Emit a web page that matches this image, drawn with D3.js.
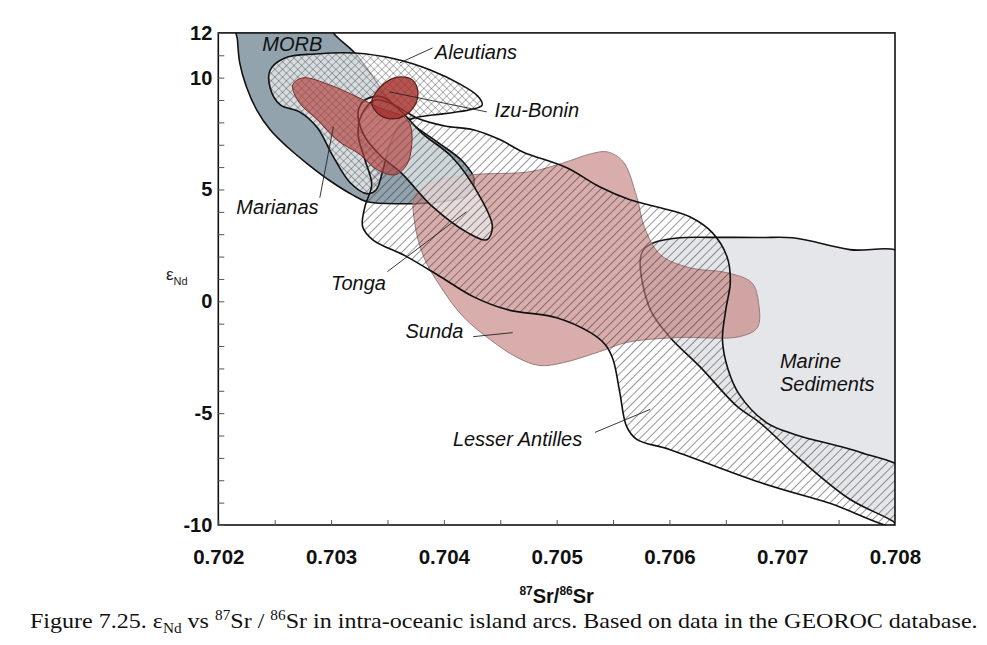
<!DOCTYPE html>
<html><head><meta charset="utf-8">
<script src="https://cdn.jsdelivr.net/npm/d3@7"></script>
<style>body{margin:0;background:#fff;} svg{display:block;}</style>
</head><body>
<svg id="chart" width="987" height="645"></svg>
<script>
// ---------- data (87Sr/86Sr, eNd) ----------
const xTickValues = [0.702,0.7025,0.703,0.7035,0.704,0.7045,0.705,0.7055,0.706,0.7065,0.707,0.7075,0.708];
const xTickLabels = ["0.702","","0.703","","0.704","","0.705","","0.706","","0.707","","0.708"];
const yTickValues = [-10,-9,-8,-7,-6,-5,-4,-3,-2,-1,0,1,2,3,4,5,6,7,8,9,10,11,12];
const yTickLabeled = [-10,-5,0,5,10,12];

const marineSediments = [[0.70577,2.31],[0.70586,2.62],[0.70609,2.84],[0.70636,2.86],[0.70680,2.85],[0.70709,2.84],[0.70760,2.31],[0.70810,2.0],[0.70810,-10.3],[0.70798,-9.83],[0.70760,-8.85],[0.70716,-7.07],[0.70680,-5.42],[0.70660,-4.70],[0.70627,-2.92],[0.70600,-1.58],[0.70583,-0.37],[0.70574,1.73]];
const morb = [[0.70216,12.4],[0.70299,12.4],[0.70302,12.0],[0.70321,11.10],[0.70336,10.12],[0.70350,9.09],[0.70367,8.11],[0.70394,7.13],[0.70417,6.24],[0.70427,5.43],[0.70421,4.76],[0.70397,4.45],[0.70361,4.36],[0.70332,4.45],[0.70319,4.76],[0.70299,5.39],[0.70279,6.15],[0.70261,6.91],[0.70246,7.67],[0.70234,8.56],[0.70225,9.58],[0.70219,10.66],[0.70217,11.68]];
const sunda = [[0.70374,4.67],[0.70388,5.30],[0.70426,5.66],[0.70476,5.79],[0.70506,6.19],[0.70530,6.59],[0.70545,6.68],[0.70559,6.24],[0.70571,4.67],[0.70578,3.29],[0.70592,2.08],[0.70618,1.50],[0.70651,1.28],[0.70673,0.83],[0.70679,-0.06],[0.70678,-1.17],[0.70662,-1.58],[0.70607,-1.62],[0.70562,-1.84],[0.70538,-2.25],[0.70506,-2.74],[0.70485,-2.87],[0.70465,-2.51],[0.70441,-1.71],[0.70417,-0.68],[0.70397,0.66],[0.70382,2.00],[0.70374,3.56]];
const aleutians = [[0.70246,10.34],[0.70259,10.88],[0.70286,11.06],[0.70321,11.10],[0.70357,10.83],[0.70388,10.34],[0.70414,9.72],[0.70430,9.18],[0.70434,8.78],[0.70423,8.56],[0.70399,8.38],[0.70374,8.20],[0.70361,7.89],[0.70352,7.00],[0.70346,5.88],[0.70340,4.99],[0.70332,4.81],[0.70317,5.30],[0.70301,6.55],[0.70288,7.75],[0.70272,8.47],[0.70255,8.78],[0.70246,9.54]];
const tonga = [[0.70324,8.47],[0.70330,9.00],[0.70345,9.14],[0.70363,8.45],[0.70381,7.50],[0.70407,6.46],[0.70432,4.67],[0.70443,3.33],[0.70438,2.75],[0.70421,3.07],[0.70390,4.23],[0.70363,5.70],[0.70343,6.55],[0.70329,7.44]];
const lesserAntilles = [[0.70339,9.00],[0.70354,8.82],[0.70376,8.20],[0.70401,7.84],[0.70426,7.67],[0.70450,7.22],[0.70470,6.68],[0.70509,5.97],[0.70538,5.12],[0.70565,4.54],[0.70592,4.18],[0.70618,3.78],[0.70638,3.07],[0.70651,2.00],[0.70654,0.88],[0.70650,-0.37],[0.70647,-1.71],[0.70652,-3.05],[0.70662,-4.17],[0.70686,-5.42],[0.70711,-5.95],[0.70769,-6.75],[0.70810,-7.65],[0.70810,-10.05],[0.70740,-8.99],[0.70680,-8.09],[0.70600,-6.62],[0.70571,-6.17],[0.70562,-5.59],[0.70556,-4.08],[0.70550,-2.60],[0.70543,-1.93],[0.70530,-1.40],[0.70500,-0.73],[0.70456,-0.37],[0.70426,0.21],[0.70397,1.10],[0.70367,2.00],[0.70337,2.75],[0.70328,3.33],[0.70330,4.23],[0.70336,5.21],[0.70330,6.33],[0.70324,7.44],[0.70327,8.33]];
const marianas = [[0.70266,9.67],[0.70275,9.99],[0.70299,9.67],[0.70323,9.14],[0.70343,8.65],[0.70366,8.20],[0.70371,7.75],[0.70371,6.77],[0.70367,6.10],[0.70357,5.66],[0.70341,5.88],[0.70326,6.55],[0.70305,7.22],[0.70288,8.11],[0.70272,8.87]];
const izuBonin = [[0.70361,10.03],[0.70372,9.90],[0.70377,9.36],[0.70374,8.74],[0.70365,8.29],[0.70352,8.16],[0.70341,8.42],[0.70336,8.92],[0.70343,9.54],[0.70352,9.90]];

const labelNames = ["MORB","Aleutians","Izu-Bonin","Marianas","Tonga","Sunda","Lesser Antilles","Marine","Sediments"];
const labelAt = [[0.70239,11.19],[0.70392,10.85],[0.70445,8.25],[0.70216,3.92],[0.70300,0.52],[0.70366,-1.62],[0.70408,-6.49],[0.70698,-2.96],[0.70698,-4.03]];
const leaderLines = [
  [[0.70390,11.33],[0.70361,10.66]],
  [[0.70438,8.47],[0.70352,9.36]],
  [[0.70290,4.63],[0.70302,7.80]],
  [[0.70350,1.33],[0.70420,4.00]],
  [[0.70426,-1.58],[0.70461,-1.40]],
  [[0.70534,-5.86],[0.70583,-4.83]]
];

// ---------- drawing ----------
const svg = d3.select("#chart");
const x = d3.scaleLinear().domain([0.702,0.708]).range([218.3,895]);
const y = d3.scaleLinear().domain([-10,12]).range([525,32.9]);

const defs = svg.append("defs");
defs.append("clipPath").attr("id","plotClip").append("rect")
  .attr("x",x(0.702)).attr("y",y(12)).attr("width",x(0.708)-x(0.702)).attr("height",y(-10)-y(12));
const hatch = defs.append("pattern").attr("id","hatch").attr("patternUnits","userSpaceOnUse")
  .attr("width",6).attr("height",6).attr("patternTransform","rotate(45)");
hatch.append("line").attr("x1",0).attr("y1",0).attr("x2",0).attr("y2",6).attr("stroke","#1a1a1a").attr("stroke-width",0.9);
const cross = defs.append("pattern").attr("id","cross").attr("patternUnits","userSpaceOnUse")
  .attr("width",5.4).attr("height",5.4).attr("patternTransform","rotate(45)");
cross.append("line").attr("x1",0).attr("y1",0).attr("x2",0).attr("y2",5.4).attr("stroke","#333").attr("stroke-width",0.7);
cross.append("line").attr("x1",0).attr("y1",0).attr("x2",5.4).attr("y2",0).attr("stroke","#333").attr("stroke-width",0.7);

const line = d3.line().x(d=>x(d[0])).y(d=>y(d[1])).curve(d3.curveCatmullRomClosed.alpha(0.5));
const seg = d3.line().x(d=>x(d[0])).y(d=>y(d[1]));

const g = svg.append("g").attr("clip-path","url(#plotClip)");

function field(data, fill, opacity, stroke, sw, pattern){
  if (fill) g.append("path").attr("d",line(data)).attr("fill",fill).attr("fill-opacity",opacity).attr("stroke","none");
  if (pattern) g.append("path").attr("d",line(data)).attr("fill","url(#"+pattern+")").attr("stroke","none");
  if (stroke) g.append("path").attr("d",line(data)).attr("fill","none").attr("stroke",stroke).attr("stroke-width",sw);
}

field(marineSediments,"#e5e6e9",1,"#111",1.6,null);
field(morb,"#93a3ae",1,"#111",1.6,null);
field(sunda,"#c27f7c",0.64,"#9a7b7b",1,null);
field(aleutians,"#ffffff",0.62,"#111",1.6,"cross");
field(tonga,"#eef1f3",0.66,"#111",1.6,null);
field(lesserAntilles,null,1,"#111",1.6,"hatch");
field(marianas,"#b0403c",0.66,"#7a2a27",1,null);
field(izuBonin,"#a3302c",0.82,"#5e1b19",1.2,null);

// leaders
leaderLines.forEach(l=>{
  svg.append("path").attr("d",seg(l)).attr("stroke","#222").attr("stroke-width",0.9).attr("fill","none");
});

// labels
labelNames.forEach((t,i)=>{
  svg.append("text").attr("x",x(labelAt[i][0])).attr("y",y(labelAt[i][1]))
    .attr("font-family","'Liberation Sans', Arial, sans-serif").attr("font-style","italic")
    .attr("font-size",20).attr("fill","#111").text(t);
});

// frame
svg.append("rect").attr("x",x(0.702)).attr("y",y(12)).attr("width",x(0.708)-x(0.702)).attr("height",y(-10)-y(12))
  .attr("fill","none").attr("stroke","#111").attr("stroke-width",1.6);

// axes
const xAxis = d3.axisBottom(x).tickValues(xTickValues).tickSizeInner(-5).tickSizeOuter(0).tickPadding(24)
  .tickFormat((d,i)=>xTickLabels[i]);
const gx = svg.append("g").attr("transform",`translate(0,${y(-10)})`).call(xAxis);
gx.select(".domain").remove();
gx.selectAll(".tick line").attr("stroke","#555").attr("stroke-width",1);
gx.selectAll("text").attr("font-family","'Liberation Sans', Arial, sans-serif").attr("font-weight","bold")
  .attr("font-size",20.5).attr("fill","#111");

const yAxis = d3.axisLeft(y).tickValues(yTickValues).tickSizeInner(-6).tickSizeOuter(0).tickPadding(6)
  .tickFormat(d=> yTickLabeled.includes(d) ? String(d) : "");
const gy = svg.append("g").attr("transform",`translate(${x(0.702)},0)`).call(yAxis);
gy.select(".domain").remove();
gy.selectAll(".tick line").attr("stroke","#555").attr("stroke-width",1);
gy.selectAll("text").attr("font-family","'Liberation Sans', Arial, sans-serif").attr("font-weight","bold")
  .attr("font-size",20).attr("fill","#111");

// axis titles
const xt = svg.append("text").attr("x",(x(0.702)+x(0.708))/2).attr("y",603).attr("text-anchor","middle")
  .attr("font-family","'Liberation Sans', Arial, sans-serif").attr("font-weight","bold").attr("font-size",20).attr("fill","#111");
xt.append("tspan").attr("font-size",12).attr("dy",-8).text("87");
xt.append("tspan").attr("dy",8).text("Sr/");
xt.append("tspan").attr("font-size",12).attr("dy",-8).text("86");
xt.append("tspan").attr("dy",8).text("Sr");

const yt = svg.append("text").attr("x",166).attr("y",280)
  .attr("font-family","'Liberation Sans', Arial, sans-serif").attr("font-size",17).attr("fill","#222");
yt.append("tspan").text("ε");
yt.append("tspan").attr("font-size",11).attr("dy",5).text("Nd");

// caption
const cap = svg.append("text").attr("x",0).attr("y",628)
  .attr("font-family","'Liberation Serif', 'Times New Roman', serif").attr("font-size",22).attr("fill","#111");
cap.append("tspan").text("Figure 7.25. ε");
cap.append("tspan").attr("font-size",14).attr("dy",5).text("Nd");
cap.append("tspan").attr("dy",-5).text(" vs ");
cap.append("tspan").attr("font-size",14).attr("dy",-8).text("87");
cap.append("tspan").attr("dy",8).text("Sr / ");
cap.append("tspan").attr("font-size",14).attr("dy",-8).text("86");
cap.append("tspan").attr("dy",8).text("Sr in intra-oceanic island arcs. Based on data in the GEOROC database.");
const w = cap.node().getComputedTextLength();
const sx = (978-30)/w;
cap.attr("transform",`translate(30,0) scale(${sx},1)`);
</script>
</body></html>
